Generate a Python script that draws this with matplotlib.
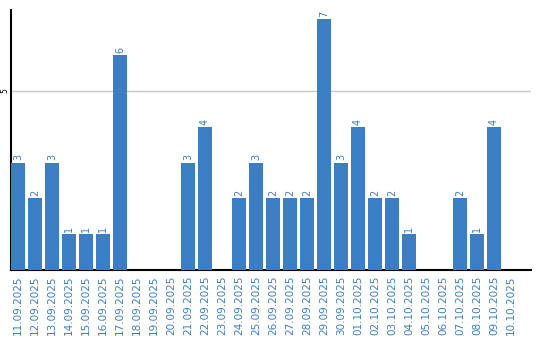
import matplotlib
matplotlib.use("Agg")
import matplotlib.pyplot as plt

dates = ["11.09.2025", "12.09.2025", "13.09.2025", "14.09.2025", "15.09.2025",
         "16.09.2025", "17.09.2025", "18.09.2025", "19.09.2025", "20.09.2025",
         "21.09.2025", "22.09.2025", "23.09.2025", "24.09.2025", "25.09.2025",
         "26.09.2025", "27.09.2025", "28.09.2025", "29.09.2025", "30.09.2025",
         "01.10.2025", "02.10.2025", "03.10.2025", "04.10.2025", "05.10.2025",
         "06.10.2025", "07.10.2025", "08.10.2025", "09.10.2025", "10.10.2025"]
counts = [3, 2, 3, 1, 1, 1, 6, 0, 0, 0, 3, 4, 0, 2, 3, 2, 2, 2, 7, 3,
          4, 2, 2, 1, 0, 0, 2, 1, 4, 0]

blue = "#3c7ec4"

fig = plt.figure(figsize=(5.4, 3.4), dpi=100)
ax = fig.add_axes([11 / 540, 70 / 340, 520 / 540, 260 / 340])

x = range(len(dates))
ax.bar(x, counts, width=0.82, color=blue, zorder=3)
for i, v in enumerate(counts):
    if v > 0:
        ax.text(i, v + 0.06, str(v), rotation=90, ha="center", va="bottom",
                fontsize=7, color=blue)

ax.set_xlim(-0.41, len(dates) - 1 + 1.18)
ax.set_ylim(0, 7.26)
ax.set_yticks([5])
ax.set_yticklabels(["5"], rotation=90, va="center", fontsize=5.5)
ax.yaxis.grid(True, color="#c8c8c8", linewidth=1, zorder=0)
ax.tick_params(axis="y", length=0, pad=1.5)

ax.set_xticks(list(x))
ax.set_xticklabels(dates, rotation=90, fontsize=7.5, color=blue)
ax.tick_params(axis="x", length=0, pad=4)

for s in ["top", "right"]:
    ax.spines[s].set_visible(False)
ax.spines["left"].set_linewidth(1.5)
ax.spines["bottom"].set_linewidth(1.5)

fig.savefig("out.png", dpi=100)
